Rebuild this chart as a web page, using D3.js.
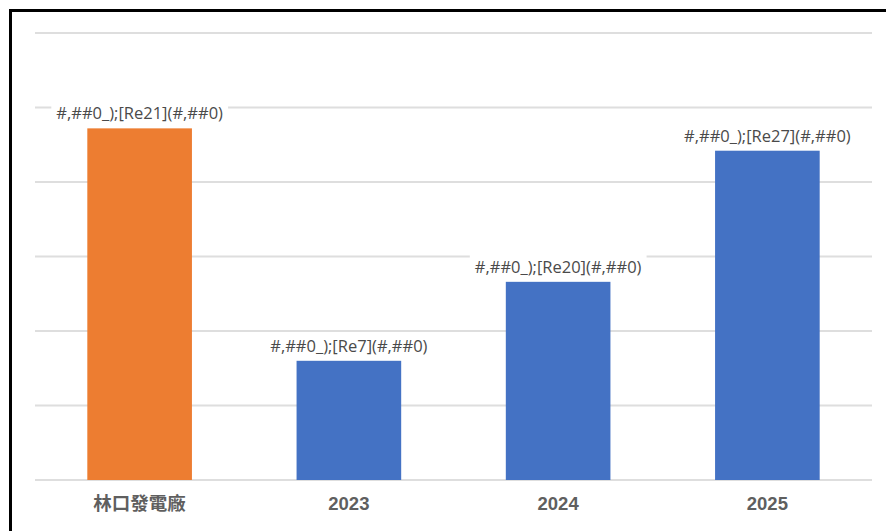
<!DOCTYPE html>
<html>
<head>
<meta charset="utf-8"/>
<title>林口發電廠</title>
<style>
    body { margin: 0; background: #fff; }
    .lbl { font-family: "Open Sans", "DejaVu Sans", sans-serif; font-size: 16.5px; fill: #4a4a4a; }
    .xlab { font-family: "Liberation Sans", "Noto Sans CJK TC", sans-serif; font-size: 18.5px; font-weight: bold; fill: #5f5f5f; }
</style>
</head>
<body>
<div id="chart"></div>
<script src="https://cdn.jsdelivr.net/npm/d3@7"></script>
<script>

    // data
    var categories = ["林口發電廠", "2023", "2024", "2025"];
    var values = [4.72, 1.6, 2.66, 4.42];
    var labels = ["#,##0_);[Re21](#,##0)", "#,##0_);[Re7](#,##0)", "#,##0_);[Re20](#,##0)", "#,##0_);[Re27](#,##0)"];
    var colors = ["#ED7D31", "#4472C4", "#4472C4", "#4472C4"];
    var yTicks = [0, 1, 2, 3, 4, 5, 6];

    var svg_dx = 886, svg_dy = 531;
    var margin = {top: 33, right: 14, bottom: 51, left: 35};

    var svg = d3.select("#chart").append("svg")
        .attr("width", svg_dx)
        .attr("height", svg_dy);

    var x = d3.scaleBand()
        .domain(categories)
        .range([margin.left, svg_dx - margin.right])
        .paddingInner(0.5)
        .paddingOuter(0.25);

    var y = d3.scaleLinear()
        .domain([0, 6])
        .range([svg_dy - margin.bottom, margin.top]);

    // gridlines
    svg.append("g").selectAll("line")
        .data(yTicks)
        .enter().append("line")
        .attr("x1", margin.left)
        .attr("x2", svg_dx - margin.right)
        .attr("y1", d => y(d))
        .attr("y2", d => y(d))
        .attr("stroke", "#dedede")
        .attr("stroke-width", 2);

    // bars
    svg.append("g").selectAll("rect")
        .data(values)
        .enter().append("rect")
        .attr("x", (d, i) => x(categories[i]))
        .attr("y", d => y(d))
        .attr("width", x.bandwidth())
        .attr("height", d => y(0) - y(d))
        .attr("fill", (d, i) => colors[i]);

    // data labels with white backing
    var lab = svg.append("g").selectAll("g")
        .data(values)
        .enter().append("g");

    lab.append("text")
        .attr("class", "lbl")
        .attr("x", (d, i) => x(categories[i]) + x.bandwidth() / 2)
        .attr("y", d => y(d) - 9)
        .attr("text-anchor", "middle")
        .text((d, i) => labels[i]);

    lab.each(function () {
        var t = d3.select(this).select("text");
        var b = t.node().getBBox();
        d3.select(this).insert("rect", "text")
            .attr("x", b.x - 5)
            .attr("y", b.y)
            .attr("width", b.width + 10)
            .attr("height", b.height)
            .attr("fill", "#fff");
    });

    // category labels
    svg.append("g").selectAll("text")
        .data(categories)
        .enter().append("text")
        .attr("class", "xlab")
        .attr("x", d => x(d) + x.bandwidth() / 2)
        .attr("y", y(0) + 30)
        .attr("text-anchor", "middle")
        .text(d => d);

    // outer frame
    svg.append("rect")
        .attr("x", 10.5)
        .attr("y", 10.5)
        .attr("width", 1000)
        .attr("height", 1000)
        .attr("fill", "none")
        .attr("stroke", "#000")
        .attr("stroke-width", 3);

</script>
</body>
</html>
